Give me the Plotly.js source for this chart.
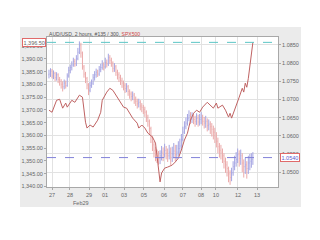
<!DOCTYPE html>
<html>
<head>
<meta charset="utf-8">
<script src="https://cdn.plot.ly/plotly-3.0.1.min.js"></script>
<style>html,body{margin:0;padding:0;background:#fff;}#chart{width:320px;height:240px;}</style>
</head>
<body>
<div id="chart"></div>
<script>
// AUD/USD 2-hour bars (right axis)
var audOpen = [1.0768,1.0770,1.0778,1.0765,1.0772,1.0760,1.0768,1.0755,1.0750,1.0742,1.0735,1.0745,1.0738,1.0765,1.0780,1.0788,1.0795,1.0805,1.0798,1.0812,1.0830,1.0850,1.0828,1.0790,1.0770,1.0758,1.0740,1.0725,1.0738,1.0745,1.0760,1.0768,1.0775,1.0770,1.0782,1.0788,1.0795,1.0790,1.0802,1.0798,1.0815,1.0808,1.0800,1.0785,1.0790,1.0775,1.0768,1.0760,1.0752,1.0745,1.0738,1.0730,1.0735,1.0722,1.0715,1.0708,1.0712,1.0700,1.0695,1.0688,1.0692,1.0682,1.0678,1.0672,1.0665,1.0650,1.0640,1.0620,1.0595,1.0575,1.0560,1.0550,1.0545,1.0538,1.0545,1.0555,1.0548,1.0560,1.0552,1.0545,1.0555,1.0540,1.0550,1.0558,1.0548,1.0555,1.0565,1.0572,1.0590,1.0610,1.0625,1.0635,1.0648,1.0655,1.0645,1.0652,1.0645,1.0640,1.0648,1.0638,1.0645,1.0650,1.0640,1.0635,1.0640,1.0628,1.0632,1.0625,1.0618,1.0610,1.0600,1.0585,1.0570,1.0560,1.0555,1.0545,1.0530,1.0520,1.0510,1.0495,1.0485,1.0498,1.0515,1.0525,1.0535,1.0548,1.0538,1.0545,1.0525,1.0515,1.0520,1.0510,1.0525,1.0530,1.0535];
var audHigh = [1.0782,1.0786,1.0784,1.0780,1.0776,1.0775,1.0772,1.0762,1.0756,1.0750,1.0755,1.0752,1.0772,1.0790,1.0796,1.0805,1.0815,1.0812,1.0822,1.0842,1.0860,1.0856,1.0832,1.0795,1.0776,1.0762,1.0745,1.0748,1.0755,1.0770,1.0778,1.0785,1.0782,1.0792,1.0798,1.0808,1.0802,1.0815,1.0810,1.0826,1.0822,1.0815,1.0805,1.0800,1.0795,1.0782,1.0775,1.0768,1.0760,1.0752,1.0745,1.0745,1.0740,1.0728,1.0722,1.0722,1.0718,1.0708,1.0702,1.0702,1.0698,1.0690,1.0685,1.0680,1.0670,1.0658,1.0645,1.0625,1.0600,1.0585,1.0570,1.0562,1.0558,1.0560,1.0572,1.0568,1.0578,1.0572,1.0565,1.0575,1.0568,1.0570,1.0580,1.0575,1.0575,1.0585,1.0592,1.0605,1.0625,1.0640,1.0650,1.0660,1.0670,1.0665,1.0665,1.0662,1.0655,1.0662,1.0658,1.0660,1.0665,1.0658,1.0652,1.0655,1.0648,1.0645,1.0640,1.0635,1.0628,1.0622,1.0610,1.0595,1.0580,1.0575,1.0565,1.0552,1.0540,1.0530,1.0515,1.0505,1.0512,1.0530,1.0545,1.0555,1.0565,1.0560,1.0562,1.0552,1.0535,1.0540,1.0530,1.0545,1.0550,1.0552,1.0555];
var audLow = [1.0758,1.0762,1.0758,1.0756,1.0750,1.0752,1.0745,1.0738,1.0730,1.0722,1.0728,1.0730,1.0735,1.0760,1.0772,1.0780,1.0790,1.0790,1.0792,1.0808,1.0825,1.0815,1.0782,1.0760,1.0745,1.0728,1.0712,1.0720,1.0732,1.0740,1.0752,1.0760,1.0762,1.0765,1.0775,1.0782,1.0780,1.0785,1.0788,1.0792,1.0798,1.0790,1.0775,1.0776,1.0765,1.0755,1.0748,1.0740,1.0732,1.0725,1.0718,1.0720,1.0710,1.0702,1.0695,1.0698,1.0688,1.0682,1.0675,1.0678,1.0670,1.0665,1.0660,1.0652,1.0638,1.0625,1.0605,1.0580,1.0558,1.0540,1.0530,1.0525,1.0520,1.0522,1.0532,1.0530,1.0540,1.0535,1.0528,1.0535,1.0520,1.0528,1.0538,1.0530,1.0535,1.0545,1.0552,1.0565,1.0585,1.0605,1.0618,1.0628,1.0640,1.0632,1.0635,1.0632,1.0625,1.0630,1.0625,1.0628,1.0632,1.0628,1.0620,1.0622,1.0612,1.0615,1.0605,1.0598,1.0590,1.0580,1.0568,1.0552,1.0540,1.0535,1.0525,1.0510,1.0498,1.0488,1.0472,1.0465,1.0475,1.0490,1.0505,1.0515,1.0525,1.0515,1.0520,1.0500,1.0485,1.0495,1.0482,1.0495,1.0505,1.0512,1.0520];
var audClose = [1.0770,1.0778,1.0765,1.0772,1.0760,1.0768,1.0755,1.0750,1.0742,1.0735,1.0745,1.0738,1.0765,1.0780,1.0788,1.0795,1.0805,1.0798,1.0812,1.0830,1.0850,1.0828,1.0790,1.0770,1.0758,1.0740,1.0725,1.0738,1.0745,1.0760,1.0768,1.0775,1.0770,1.0782,1.0788,1.0795,1.0790,1.0802,1.0798,1.0815,1.0808,1.0800,1.0785,1.0790,1.0775,1.0768,1.0760,1.0752,1.0745,1.0738,1.0730,1.0735,1.0722,1.0715,1.0708,1.0712,1.0700,1.0695,1.0688,1.0692,1.0682,1.0678,1.0672,1.0665,1.0650,1.0640,1.0620,1.0595,1.0575,1.0560,1.0550,1.0545,1.0538,1.0545,1.0555,1.0548,1.0560,1.0552,1.0545,1.0555,1.0540,1.0550,1.0558,1.0548,1.0555,1.0565,1.0572,1.0590,1.0610,1.0625,1.0635,1.0648,1.0655,1.0645,1.0652,1.0645,1.0640,1.0648,1.0638,1.0645,1.0650,1.0640,1.0635,1.0640,1.0628,1.0632,1.0625,1.0618,1.0610,1.0600,1.0585,1.0570,1.0560,1.0555,1.0545,1.0530,1.0520,1.0510,1.0495,1.0485,1.0498,1.0515,1.0525,1.0535,1.0548,1.0538,1.0545,1.0525,1.0515,1.0520,1.0510,1.0525,1.0530,1.0535,1.0540];

// SPX500 overlay line (left axis), bar index + value
var spxIdx = [0,2,5,7,9,11,12,15,17,19,20,22,24,25,27,29,32,34,35,38,40,42,45,47,49,51,53,55,58,59,61,63,65,68,70,71,72,73,74,76,78,81,83,85,87,89,91,93,95,97,99,101,104,106,108,110,111,114,116,118,119,120,122,124,125,127,128,129,130,131,132,133,134];
var spxVal = [1369.9,1369.1,1373.8,1374.2,1370.7,1372.7,1371.1,1373.8,1373.0,1375.0,1375.8,1375.0,1365.2,1362.9,1364.1,1363.3,1366.0,1369.1,1373.8,1377.0,1378.5,1377.7,1375.0,1373.0,1371.1,1370.7,1368.7,1366.8,1364.8,1362.9,1364.1,1362.9,1360.9,1359.4,1357.0,1351.0,1346.0,1341.8,1345.3,1347.2,1347.6,1348.4,1349.6,1351.1,1354.3,1358.2,1360.9,1366.0,1368.7,1369.9,1369.1,1371.1,1373.0,1371.9,1370.7,1372.7,1370.7,1371.9,1369.9,1367.2,1368.7,1366.8,1369.9,1372.7,1375.0,1378.5,1377.0,1380.5,1378.9,1382.4,1386.7,1391.0,1396.5];

// x tick labels (dates) at bar positions
var tickIdx = [2,13.8,26.3,36.8,49.3,62.4,75.6,88.0,99.9,109.7,124.2,136.7];
var tickText = ['27','28','29','01','03','05','06','07','08','10','12','13'];
var spxTicks = [1340,1345,1350,1355,1360,1365,1370,1375,1380,1385,1390,1395];
var spxLast = 1396.5;
var audLast = 1.0540;

var barIdx = audClose.map(function(_, i){ return i; });

var fam = 'Liberation Sans, Arial, sans-serif';
var tickFont = {family: fam, size: 5.5, color: '#666'};

var traces = [
  {
    type: 'ohlc', x: barIdx, open: audOpen, high: audHigh, low: audLow, close: audClose,
    xaxis: 'x', yaxis: 'y',
    increasing: {line: {color: '#a4a4e2', width: 1}},
    decreasing: {line: {color: '#ebaaaa', width: 1}},
    tickwidth: 0.3, hoverinfo: 'skip', showlegend: false
  },
  {
    type: 'scatter', mode: 'lines', x: spxIdx, y: spxVal, xaxis: 'x', yaxis: 'y2',
    line: {color: '#bf6262', width: 1}, hoverinfo: 'skip', showlegend: false
  }
];

var layout = {
  width: 320, height: 240,
  margin: {l: 47, r: 42, t: 37, b: 53},
  paper_bgcolor: '#ffffff', plot_bgcolor: 'rgba(0,0,0,0)',
  showlegend: false,
  xaxis: {
    type: 'linear', range: [-1.3, 150.5],
    tickvals: tickIdx, ticktext: tickText, tickfont: tickFont,
    showgrid: true, gridcolor: '#e2e2e2', gridwidth: 1,
    showline: true, linecolor: '#a8a8a8', linewidth: 1, mirror: true,
    ticks: 'outside', ticklen: 2, tickcolor: '#a8a8a8',
    zeroline: false, rangeslider: {visible: false}, fixedrange: true
  },
  yaxis: {
    side: 'right', range: [1.0459, 1.0872], dtick: 0.005, tick0: 1.05,
    tickformat: '.4f', tickfont: tickFont,
    showgrid: true, gridcolor: '#e2e2e2', gridwidth: 1,
    showline: true, linecolor: '#a8a8a8', linewidth: 1,
    ticks: 'outside', ticklen: 2, tickcolor: '#a8a8a8', zeroline: false, fixedrange: true
  },
  yaxis2: {
    overlaying: 'y', side: 'left', range: [1339.8, 1398.6],
    tickvals: spxTicks, tickformat: ',.2f', tickfont: tickFont,
    showgrid: false, showline: true, linecolor: '#a8a8a8', linewidth: 1,
    ticks: 'outside', ticklen: 2, tickcolor: '#a8a8a8', zeroline: false, fixedrange: true
  },
  shapes: [
    {type: 'rect', xref: 'paper', yref: 'paper', x0: -0.117, x1: 1.0996, y0: -0.133, y1: 1.067,
     fillcolor: '#ebebeb', line: {width: 0}, layer: 'below'},
    {type: 'rect', xref: 'paper', yref: 'paper', x0: 0, x1: 1, y0: 0, y1: 1,
     fillcolor: '#ffffff', line: {width: 0}, layer: 'below'},
    {type: 'line', xref: 'paper', yref: 'y2', x0: 0, x1: 1, y0: spxLast, y1: spxLast,
     line: {color: '#5cc6c6', width: 1, dash: 'dash'}},
    {type: 'line', xref: 'paper', yref: 'y', x0: 0, x1: 1, y0: audLast, y1: audLast,
     line: {color: '#8282d8', width: 1, dash: 'dash'}}
  ],
  annotations: [
    {xref: 'paper', yref: 'paper', x: 0, y: 1.02, xanchor: 'left', yanchor: 'middle', showarrow: false,
     text: 'AUD/USD, 2 hours, #135 / 300, <span style="color:#d04848">SPX500</span>',
     font: {family: fam, size: 5.1, color: '#555'}},
    {xref: 'paper', yref: 'y2', x: 0, y: spxLast, xanchor: 'right', yanchor: 'middle', xshift: -1,
     showarrow: false, text: '1,396.50', bgcolor: '#ffffff', bordercolor: '#e06a6a', borderwidth: 1, borderpad: 0.5,
     font: {family: fam, size: 5.5, color: '#666'}},
    {xref: 'paper', yref: 'y', x: 1, y: audLast, xanchor: 'left', yanchor: 'middle', xshift: 2,
     showarrow: false, text: '1.0540', bgcolor: '#ffffff', bordercolor: '#e06a6a', borderwidth: 1, borderpad: 0.5,
     font: {family: fam, size: 5.5, color: '#5a5ad0'}},
    {xref: 'x', yref: 'paper', x: 21, y: -0.105, xanchor: 'center', yanchor: 'middle', showarrow: false,
     text: 'Feb29', font: {family: fam, size: 5.5, color: '#666'}}
  ]
};

Plotly.newPlot('chart', traces, layout, {staticPlot: true, displayModeBar: false});
</script>
</body>
</html>
